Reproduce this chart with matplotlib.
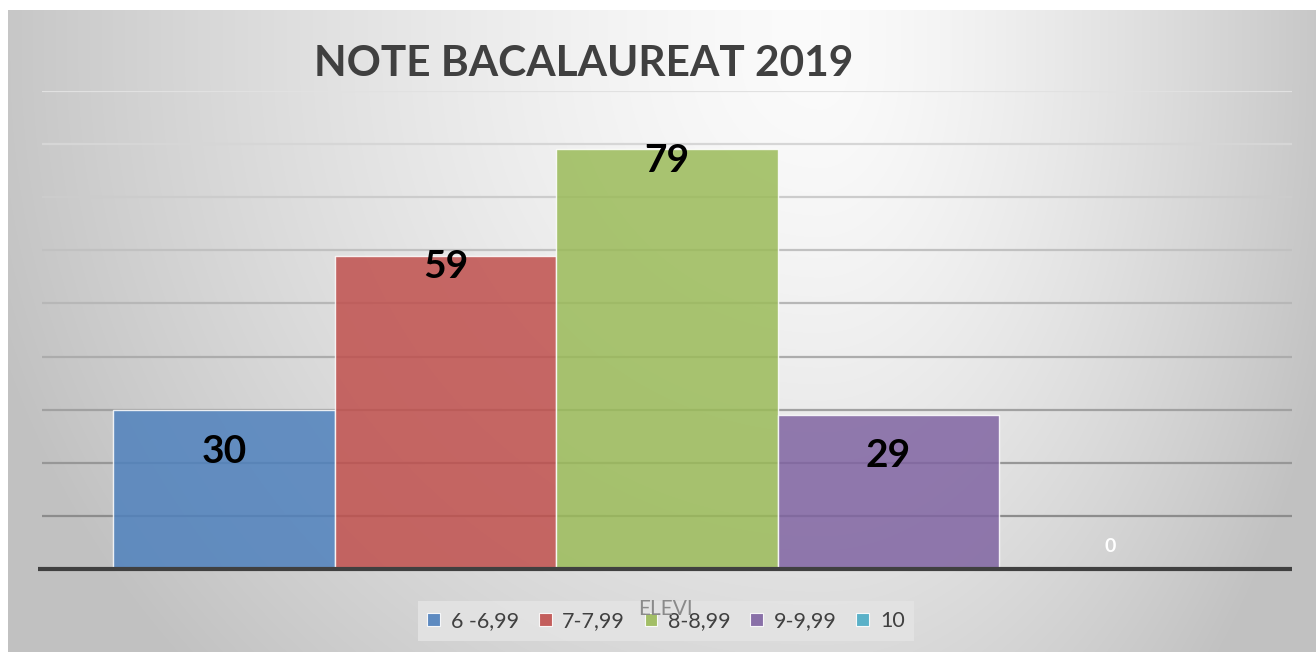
import numpy as np
import matplotlib
matplotlib.use("Agg")
import matplotlib.pyplot as plt
from matplotlib.patches import Patch

# ---- data ----
category = "ELEVI"
series_names = ["6 -6,99", "7-7,99", "8-8,99", "9-9,99", "10"]
values = [30, 59, 79, 29, 0]
title = "NOTE BACALAUREAT 2019"

# ---- style ----
colors = ["#4F81BD", "#C0504D", "#9BBB59", "#8064A2", "#4BACC6"]
label_offsets_px = [-42, -11, -11, -41, 23]   # label centre offset from bar top
label_colors = ["black", "black", "black", "black", "white"]
label_sizes = [28, 28, 28, 28, 14]
FONT = "Lato"

W, H = 1316, 652
fig = plt.figure(figsize=(W / 100, H / 100), dpi=100)
fig.patch.set_facecolor("white")

# background gradient (chart area)
bg = fig.add_axes([0, 0, 1, 1], zorder=-10)
bg.set_axis_off()
yy, xx = np.mgrid[0:H, 0:W].astype(float)
cx, cy = 820, 60
u = np.where(xx < cx, (cx - xx) / 810, (xx - cx) / 500)
w = np.clip(yy - cy, 0, None) / 620 * 0.75
r = np.minimum(np.sqrt(u ** 2 + w ** 2), 1.08)
v = 251 - 52 * r ** 1.4
v = np.clip(v, 180, 252) / 255.0
img = np.dstack([v, v, v])
img[:10, :, :] = 1.0
img[:, :8, :] = 1.0
bg.imshow(img, extent=[0, W, H, 0], aspect="auto", interpolation="bilinear")
bg.set_xlim(0, W)
bg.set_ylim(H, 0)

# main axes
left, right = 42, 1292
top, bottom = 91, 569
ax = fig.add_axes([left / W, 1 - bottom / H, (right - left) / W, (bottom - top) / H])
ax.patch.set_alpha(0)
ax.set_xlim(-0.5, 0.5)
ax.set_ylim(0, 90)

n = len(values)
bw = 0.1772
xs = (np.arange(n) - (n - 1) / 2) * bw

# gridlines with fading colour
for lv in range(10, 100, 10):
    t = (lv - 10) / 80
    g = (140 + t * 85) / 255
    ax.axhline(lv, color=(g, g, g), lw=1.6, zorder=1)

bars = ax.bar(xs, values, width=bw, color=colors, alpha=0.85,
              edgecolor=(1, 1, 1, 0.7), linewidth=1.0, zorder=2)

for x, val, off, c, s in zip(xs, values, label_offsets_px, label_colors, label_sizes):
    ax.annotate(str(val), xy=(x, val), xytext=(0, off * 0.72),
                textcoords="offset points", ha="center", va="center",
                fontsize=s, fontweight="bold", color=c, family=FONT, zorder=5)

# axis line
ax.plot([-0.503, 0.5], [0, 0], color="#404040", lw=3, solid_capstyle="butt",
        clip_on=False, zorder=4)

for sp in ax.spines.values():
    sp.set_visible(False)
ax.set_xticks([])
ax.set_yticks([])

# title
fig.text(583.5 / W, 1 - 76 / H, title, ha="center", va="baseline",
         fontsize=30.5, fontweight="bold", color="#404040", family=FONT)

# legend
handles = [Patch(facecolor=c, edgecolor="white", linewidth=0.8, alpha=0.9) for c in colors]
leg = ax.legend(handles, series_names, loc="center",
                bbox_to_anchor=(666 / W, 1 - 621 / H), bbox_transform=fig.transFigure,
                ncol=n, frameon=True, fancybox=False, prop={"family": FONT, "size": 15.5},
                handlelength=0.6, handleheight=0.6, handletextpad=0.5,
                columnspacing=0.9, borderpad=0.45, borderaxespad=0)
leg.get_frame().set_facecolor("#e4e4e4")
leg.get_frame().set_edgecolor("none")
leg.get_frame().set_alpha(0.85)
for t in leg.get_texts():
    t.set_color("#404040")

# category label (drawn over legend)
fig.text(665 / W, 1 - 609 / H, category, ha="center", va="center",
         fontsize=15, color="#8a8a8a", family=FONT, zorder=10)

fig.savefig("out.png", dpi=100)
